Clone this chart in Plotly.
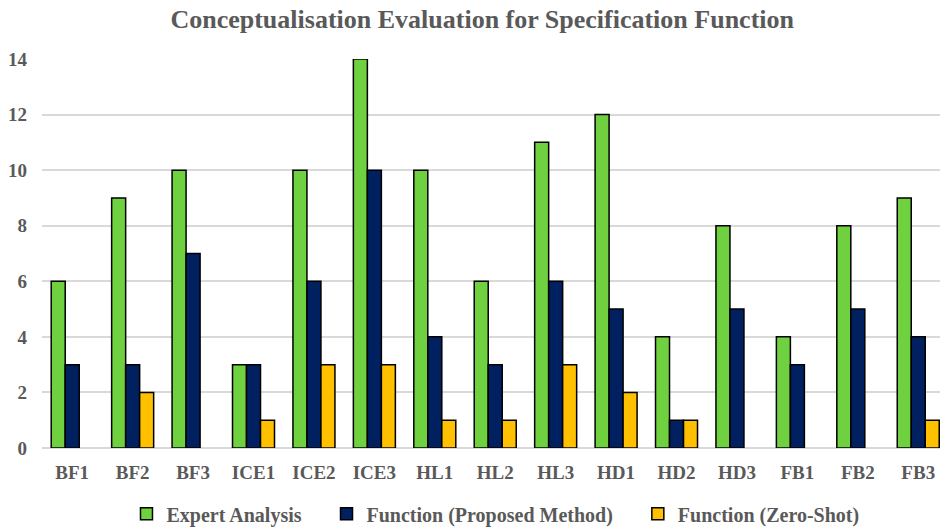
import plotly.graph_objects as go

categories = ["BF1", "BF2", "BF3", "ICE1", "ICE2", "ICE3", "HL1", "HL2", "HL3",
              "HD1", "HD2", "HD3", "FB1", "FB2", "FB3"]
expert_analysis = [6, 9, 10, 3, 10, 14, 10, 6, 11, 12, 4, 8, 4, 8, 9]
proposed_method = [3, 3, 7, 3, 6, 10, 4, 3, 6, 5, 1, 5, 3, 5, 4]
zero_shot = [0, 2, 0, 1, 3, 3, 1, 1, 3, 2, 1, 0, 0, 0, 1]
y_ticks = [0, 2, 4, 6, 8, 10, 12, 14]

series = [
    ("Expert Analysis", expert_analysis, "#6FD13F"),
    ("Function (Proposed Method)", proposed_method, "#002060"),
    ("Function (Zero-Shot)", zero_shot, "#FFC000"),
]

FONT = "Liberation Serif"
TEXT = "#595959"
PAD = "\u00a0" * 4  # extra room between legend entries

fig = go.Figure()
for i, (name, values, color) in enumerate(series):
    # empty slots are left blank instead of drawing a flat outline at zero
    shown = [v if v else None for v in values]
    label = f"<b>{name}</b>" + (PAD if i < len(series) - 1 else "")
    fig.add_trace(go.Bar(
        x=list(range(len(categories))), y=shown, name=label,
        marker=dict(color=color, line=dict(color="#000000", width=1.5)),
    ))

fig.update_layout(
    width=940, height=528,
    margin=dict(l=42, r=0, t=59, b=80),
    paper_bgcolor="white", plot_bgcolor="white",
    barmode="group", bargap=0.305, bargroupgap=0,
    title=dict(text="<b>Conceptualisation Evaluation for Specification Function</b>",
               x=0.513, xanchor="center", y=0.965, yanchor="middle",
               font=dict(family=FONT, size=26, color=TEXT)),
    legend=dict(orientation="h", x=0.505, xanchor="center",
                yref="container", y=0.027, yanchor="middle",
                font=dict(family=FONT, size=20, color=TEXT), itemwidth=30,
                traceorder="normal"),
    xaxis=dict(tickmode="array", tickvals=list(range(len(categories))),
               ticktext=[f"<b>{c}</b>" for c in categories],
               range=[-0.5, 14.36], showgrid=False, zeroline=False,
               showline=False, ticks="", ticklabelstandoff=11, automargin=False,
               tickfont=dict(family=FONT, size=19, color=TEXT)),
    yaxis=dict(range=[0, 14], tickmode="array", tickvals=y_ticks,
               ticktext=[f"<b>{t}</b>" for t in y_ticks],
               showgrid=True, gridcolor="#D9D9D9", gridwidth=1.5,
               zeroline=True, zerolinecolor="#D9D9D9", zerolinewidth=1.5,
               ticks="", ticklabelstandoff=14, automargin=False,
               tickfont=dict(family=FONT, size=19, color=TEXT)),
)

fig.write_html("out.html")
